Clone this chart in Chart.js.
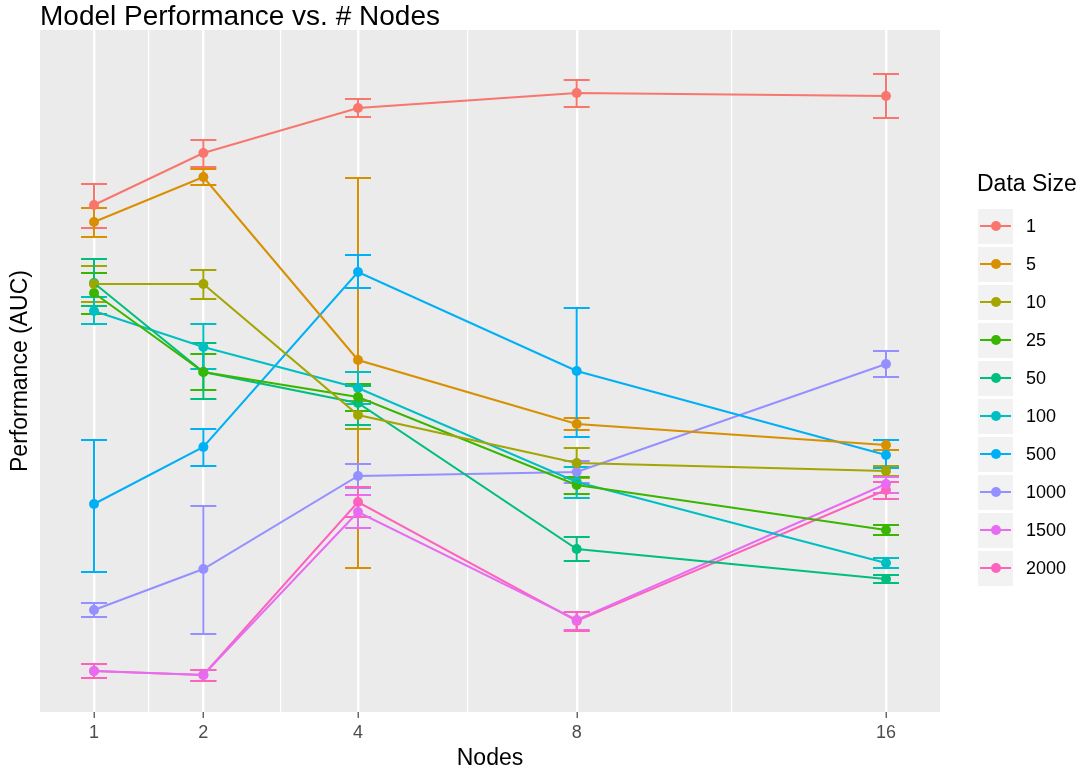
<!DOCTYPE html>
<html>
<head>
<meta charset="utf-8">
<script src="https://cdn.jsdelivr.net/npm/chart.js@4"></script>
<style>
  body { margin: 0; background: #fff; font-family: "Liberation Sans", Arial, sans-serif; }
  #wrap { position: relative; width: 1086px; height: 771px; }
  #legend { position: absolute; left: 977px; top: 168px; }
  #legend .ttl { font-size: 23px; line-height: 30px; color: #000; margin-bottom: 9px; }
  #legend .row { display: flex; align-items: center; height: 38px; }
  #legend .key { position: relative; width: 35px; height: 35px; background: #F2F2F2; margin-left: 1px; }
  #legend .key .ln { position: absolute; left: 2px; right: 2px; top: 16.5px; height: 2px; }
  #legend .key .pt { position: absolute; left: 12.5px; top: 12.5px; width: 10px; height: 10px; border-radius: 50%; }
  #legend .lab { margin-left: 13px; font-size: 18px; color: #000; }
</style>
</head>
<body>
<div id="wrap">
  <canvas id="chart" width="1086" height="771"></canvas>
  <div id="legend"></div>
</div>
<script>
// x = number of nodes (drawn on a square-root scale), y = AUC
const nodes = [1, 2, 4, 8, 16];
const sizes = ['1', '5', '10', '25', '50', '100', '500', '1000', '1500', '2000'];
const colors = ['#F8766D', '#D89000', '#A3A500', '#39B600', '#00BF7D',
                '#00BFC4', '#00B0F6', '#9590FF', '#E76BF3', '#FF62BC'];

// one row per data size, one value per node count
const aucMean = [
  [0.8535, 0.8795, 0.902, 0.9095, 0.908],
  [0.845, 0.8675, 0.776, 0.744, 0.7335],
  [0.814, 0.814, 0.7485, 0.7245, 0.7205],
  [0.8095, 0.77, 0.7575, 0.7135, 0.691],
  [0.8145, 0.77, 0.7545, 0.6815, 0.6665],
  [0.8005, 0.7825, 0.762, 0.715, 0.6745],
  [0.704, 0.7325, 0.82, 0.7705, 0.7285],
  [0.651, 0.6715, 0.718, 0.72, 0.774],
  [0.6205, 0.6185, 0.70, 0.646, 0.714],
  [0.6205, 0.6185, 0.705, 0.6455, 0.711]
];
const aucUpper = [
  [0.864, 0.886, 0.9065, 0.916, 0.919],
  [0.852, 0.8715, 0.867, 0.747, 0.736],
  [0.823, 0.821, 0.7555, 0.732, 0.723],
  [0.8195, 0.779, 0.764, 0.7175, 0.6935],
  [0.8265, 0.7845, 0.763, 0.6875, 0.6685],
  [0.8075, 0.794, 0.77, 0.7225, 0.677],
  [0.736, 0.7415, 0.8285, 0.802, 0.736],
  [0.6545, 0.703, 0.724, 0.7255, 0.7805],
  [0.624, 0.621, 0.7085, 0.65, 0.7175],
  [0.624, 0.621, 0.7125, 0.65, 0.715]
];
const aucLower = [
  [0.842, 0.8725, 0.8975, 0.9025, 0.897],
  [0.8375, 0.8635, 0.672, 0.741, 0.731],
  [0.805, 0.8065, 0.7415, 0.717, 0.718],
  [0.799, 0.761, 0.7505, 0.709, 0.6885],
  [0.803, 0.7565, 0.7435, 0.6755, 0.6645],
  [0.794, 0.7715, 0.754, 0.707, 0.672],
  [0.67, 0.723, 0.812, 0.7375, 0.722],
  [0.6475, 0.639, 0.712, 0.7145, 0.7675],
  [0.617, 0.6155, 0.692, 0.641, 0.7095],
  [0.617, 0.6155, 0.6975, 0.6405, 0.7065]
];

const FONT = '"Liberation Sans", Arial, sans-serif';
const sx = nodes.map(n => Math.sqrt(n));
// minor breaks halfway between the major ones (in sqrt space)
const minorX = sx.slice(1).map((v, i) => (v + sx[i]) / 2);
const isMajor = v => Math.abs(v * v - Math.round(v * v)) < 1e-6;

const points = row => row.map((y, j) => ({ x: sx[j], y: y }));

const lineSets = sizes.map((s, i) => ({
  label: s,
  data: points(aucMean[i]),
  borderColor: colors[i],
  borderWidth: 2,
  pointRadius: 0,
  fill: false
}));
const pointSets = sizes.map((s, i) => ({
  label: s + ' pts',
  data: points(aucMean[i]),
  showLine: false,
  pointRadius: 5,
  pointBorderWidth: 0,
  pointBackgroundColor: colors[i],
  borderColor: colors[i]
}));

const panelBg = {
  id: 'panelBg',
  beforeDraw(chart) {
    const { ctx, chartArea: a } = chart;
    ctx.save();
    ctx.fillStyle = '#EBEBEB';
    ctx.fillRect(a.left, a.top, a.right - a.left, a.bottom - a.top);
    ctx.restore();
  }
};

const errorBars = {
  id: 'errorBars',
  beforeDatasetsDraw(chart) {
    const { ctx } = chart;
    const xs = chart.scales.x, ys = chart.scales.y;
    ctx.save();
    ctx.lineWidth = 2;
    sizes.forEach((s, i) => {
      ctx.strokeStyle = colors[i];
      nodes.forEach((n, j) => {
        const px = xs.getPixelForValue(sx[j]);
        const top = ys.getPixelForValue(aucUpper[i][j]);
        const bot = ys.getPixelForValue(aucLower[i][j]);
        ctx.beginPath();
        ctx.moveTo(px, top); ctx.lineTo(px, bot);
        ctx.moveTo(px - 13, top); ctx.lineTo(px + 13, top);
        ctx.moveTo(px - 13, bot); ctx.lineTo(px + 13, bot);
        ctx.stroke();
      });
    });
    ctx.restore();
  }
};

new Chart(document.getElementById('chart'), {
  type: 'line',
  data: { datasets: lineSets.concat(pointSets) },
  plugins: [panelBg, errorBars],
  options: {
    responsive: false,
    animation: false,
    events: [],
    layout: { padding: { left: 0, right: 146, top: 0, bottom: 0 } },
    plugins: {
      legend: { display: false },
      tooltip: { enabled: false },
      title: {
        display: true,
        text: 'Model Performance vs. # Nodes',
        align: 'start',
        fullSize: false,
        color: '#000',
        font: { family: FONT, size: 28, weight: 'normal', lineHeight: 26 / 28 },
        padding: { top: 4, bottom: 0 }
      }
    },
    scales: {
      x: {
        type: 'linear',
        min: 1 - 54 / 264,
        max: 4 + 54 / 264,
        afterBuildTicks(scale) {
          scale.ticks = sx.concat(minorX).sort((a, b) => a - b).map(v => ({ value: v }));
        },
        afterFit(scale) { scale.height = 59; },
        ticks: {
          autoSkip: false,
          maxRotation: 0,
          padding: 4,
          color: '#4D4D4D',
          font: { family: FONT, size: 18 },
          callback: v => isMajor(v) ? String(Math.round(v * v)) : ''
        },
        grid: {
          color: '#FFFFFF',
          lineWidth: ctx => isMajor(ctx.tick.value) ? 2.4 : 1.2,
          tickColor: ctx => isMajor(ctx.tick.value) ? '#333333' : 'rgba(0,0,0,0)',
          tickWidth: 1.1,
          tickLength: 6
        },
        border: { display: false },
        title: {
          display: true,
          text: 'Nodes',
          color: '#000',
          font: { family: FONT, size: 23, lineHeight: 1.1 },
          padding: { top: 0, bottom: 0 }
        }
      },
      y: {
        min: 0.6,
        max: 0.941,
        afterFit(scale) { scale.width = 40; },
        ticks: { display: false },
        grid: { display: false },
        border: { display: false },
        title: {
          display: true,
          text: 'Performance (AUC)',
          color: '#000',
          font: { family: FONT, size: 23, lineHeight: 1.2 },
          padding: { top: 7, bottom: 0 }
        }
      }
    }
  }
});

// legend in the ggplot style: grey key boxes with a line and a dot
const leg = document.getElementById('legend');
leg.innerHTML = '<div class="ttl">Data Size</div>' + sizes.map((s, i) =>
  `<div class="row"><div class="key"><div class="ln" style="background:${colors[i]}"></div>` +
  `<div class="pt" style="background:${colors[i]}"></div></div><div class="lab">${s}</div></div>`
).join('');
</script>
</body>
</html>
